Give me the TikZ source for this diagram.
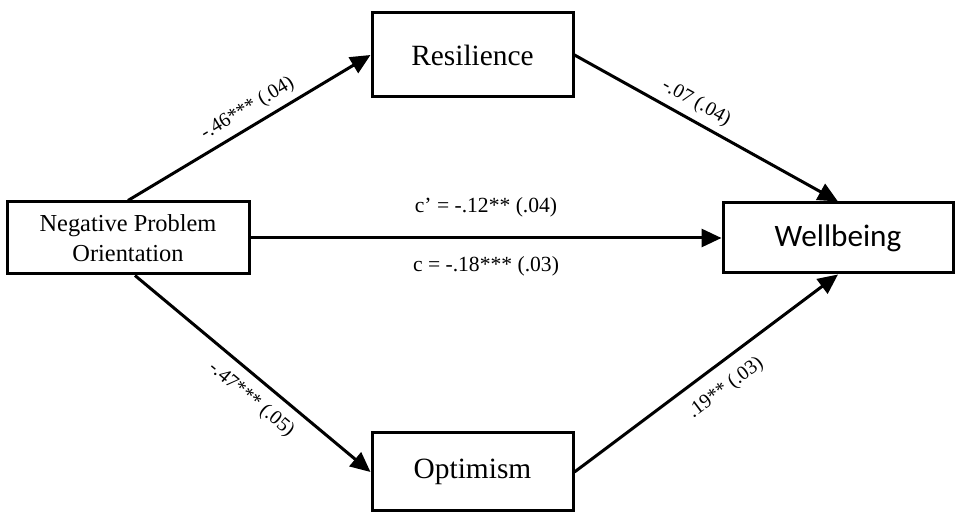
\documentclass[tikz,border=0pt]{standalone}
\usepackage{fontspec}
\setmainfont{Liberation Serif}
\newfontfamily\wellfont{Carlito}
\usetikzlibrary{arrows.meta}

\begin{document}
\begin{tikzpicture}[x=0.5pt,y=-0.5pt]
  \tikzstyle{every node}=[font=\fontsize{10}{12}\selectfont]
  \tikzstyle{var}=[draw, line width=1.5pt, inner sep=0pt, align=center]
  \tikzstyle{effect}=[line width=1.5pt, -{Triangle[length=10pt,width=9pt]}]
  \useasboundingbox (0,0) rectangle (955,512);

  \node[var, minimum width=121pt, minimum height=36pt, font=\fontsize{12.2}{15}\selectfont] (npo) at (128,238) {Negative Problem\\Orientation};
  \node[var, minimum width=100.5pt, minimum height=42pt, font=\fontsize{14.7}{16}\selectfont] (res) at (472.5,55) {Resilience};
  \node[var, minimum width=100.5pt, minimum height=39pt, font=\fontsize{14.7}{16}\selectfont] (opt) at (472.5,472) {Optimism};
  \node[var, minimum width=115pt, minimum height=35pt, font=\wellfont\fontsize{15.6}{17}\selectfont] (well) at (838,238) {Wellbeing};

  \draw[effect] (npo.north) -- node[sloped, above, pos=0.53] {-.46*** (.04)} (res.west);
  \draw[effect] (res.east) -- node[sloped, above, pos=0.43] {-.07 (.04)} (well.north);
  \draw[effect] (npo.east) -- node[above=6.5pt, font=\fontsize{10.8}{12}\selectfont] {c’ = -.12** (.04)}
    node[below=5pt, font=\fontsize{10.8}{12}\selectfont] {c = -.18*** (.03)} (well.west);
  \draw[effect] ([xshift=3.5pt]npo.south) -- node[sloped, below=1.8pt, pos=0.55] {-.47*** (.05)} (opt.west);
  \draw[effect] (opt.east) -- node[sloped, below=3.4pt, pos=0.52] {.19** (.03)} (well.south);

\end{tikzpicture}
\end{document}
